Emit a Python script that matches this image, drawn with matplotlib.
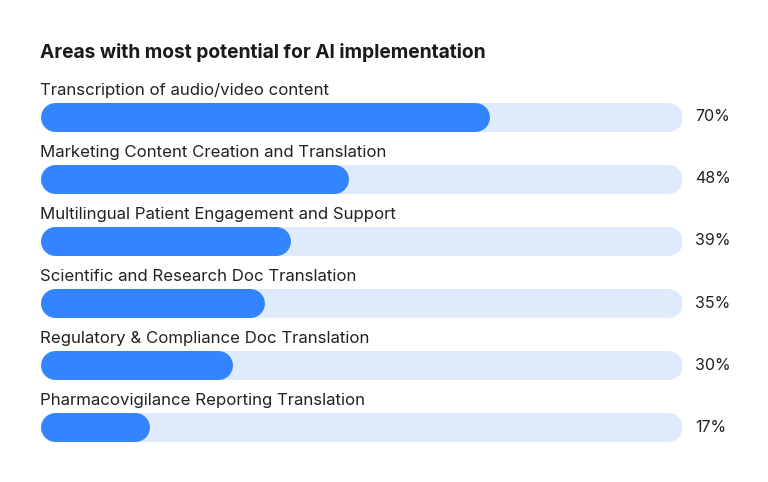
import matplotlib.pyplot as plt

categories = [
    'Transcription of audio/video content',
    'Marketing Content Creation and Translation',
    'Multilingual Patient Engagement and Support',
    'Scientific and Research Doc Translation',
    'Regulatory & Compliance Doc Translation',
    'Pharmacovigilance Reporting Translation',
]
values = [70, 48, 39, 35, 30, 17]
title = 'Areas with most potential for AI implementation'

plt.rcParams['font.family'] = ['Inter', 'DejaVu Sans']

W, H = 768, 482
fig = plt.figure(figsize=(W / 100, H / 100), dpi=100)
# axes cover the track area, 0..100 percent
ax = fig.add_axes([40 / W, 1 - 458 / H, 642 / W, 372 / H])
ax.set_xlim(0, 100)
ax.set_ylim(len(categories) - 0.5, -0.5)
ax.axis('off')

bar_px = 29
lw = bar_px * 72 / 100
r = (bar_px / 2) / 642 * 100  # cap radius in data units

track_col = '#DFEBFD'
fill_col = '#3385FF'
text_col = '#222222'

for i, (cat, v) in enumerate(zip(categories, values)):
    ax.plot([r, 100 - r], [i, i], color=track_col, lw=lw, solid_capstyle='round')
    ax.plot([r, v - r], [i, i], color=fill_col, lw=lw, solid_capstyle='round')
    ax.text(0, i - 0.42, cat, fontsize=12.1, color=text_col, va='center', ha='left')
    ax.text(102, i, f'{v}%', fontsize=11.5, color=text_col, va='center', ha='left')

fig.text(40 / W, 1 - 53 / H, title, fontsize=13.8, fontweight='bold',
         color='#1a1a1a', va='center', ha='left')

fig.savefig('out.png', dpi=100)
